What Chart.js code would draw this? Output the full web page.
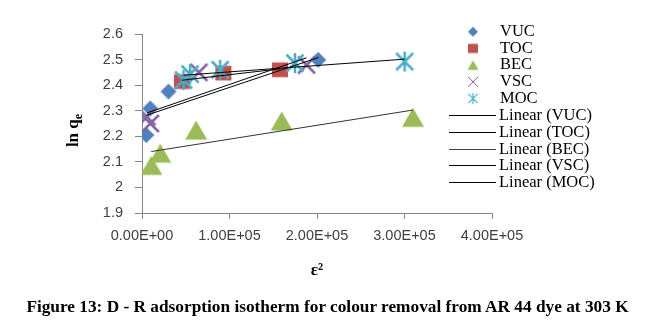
<!DOCTYPE html>
<html>
<head>
<meta charset="utf-8">
<script src="https://cdn.jsdelivr.net/npm/chart.js@4.4.1/dist/chart.umd.min.js"></script>
<style>
  html, body { margin: 0; padding: 0; background: #fff; }
  .wrap { position: relative; width: 655px; height: 333px; }
  #chart { display: block; }
  .caption {
    position: absolute; left: 0; top: 297px; width: 655px;
    text-align: center; font: bold 17.3px 'Liberation Serif', 'Times New Roman', serif;
    color: #000; white-space: nowrap;
  }
</style>
</head>
<body>
<div class="wrap">
  <canvas id="chart" width="655" height="333"></canvas>
  <div class="caption">Figure 13: D - R adsorption isotherm for colour removal from AR 44 dye at 303 K</div>
</div>
<script>
// epsilon^2 vs ln qe for each adsorbent
const vucX = [5000, 9500, 30300, 201400];
const vucY = [2.205, 2.309, 2.375, 2.499];
const tocX = [45600, 93000, 157700];
const tocY = [2.414, 2.447, 2.46];
const becX = [10600, 20900, 61900, 159600, 309700];
const becY = [2.086, 2.134, 2.224, 2.26, 2.274];
const vscX = [5700, 9500, 65000, 188100];
const vscY = [2.276, 2.25, 2.45, 2.479];
const mocX = [47500, 55000, 89300, 174800, 300200];
const mocY = [2.42, 2.443, 2.46, 2.486, 2.492];

const seriesNames = ['VUC', 'TOC', 'BEC', 'VSC', 'MOC'];
const seriesColors = ['#4F81BD', '#C0504D', '#9BBB59', '#8064A2', '#4BACC6'];
const xTicks = [0, 100000, 200000, 300000, 400000];
const yTicks = [1.9, 2.0, 2.1, 2.2, 2.3, 2.4, 2.5, 2.6];

const tickFont = { family: "'Liberation Sans', Arial, sans-serif", size: 14.5 };
const tickColor = '#404040';
const axisColor = '#868686';

function sci(v) {
  if (v === 0) return '0.00E+00';
  const e = Math.floor(Math.log10(Math.abs(v)));
  const m = v / Math.pow(10, e);
  return m.toFixed(2) + 'E' + (e < 0 ? '-' : '+') + String(Math.abs(e)).padStart(2, '0');
}

// least squares line, drawn over the x range of the series
function linearFit(xs, ys) {
  const n = xs.length;
  const mx = xs.reduce((a, b) => a + b, 0) / n;
  const my = ys.reduce((a, b) => a + b, 0) / n;
  let sxy = 0, sxx = 0;
  for (let i = 0; i < n; i++) {
    sxy += (xs[i] - mx) * (ys[i] - my);
    sxx += (xs[i] - mx) * (xs[i] - mx);
  }
  const b = sxy / sxx, a = my - b * mx;
  const lo = Math.min(...xs), hi = Math.max(...xs);
  return [{ x: lo, y: a + b * lo }, { x: hi, y: a + b * hi }];
}

function makeMarker(kind, size, color, lw) {
  const c = document.createElement('canvas');
  const w = Math.ceil(size) + 4;
  c.width = w; c.height = w;
  const g = c.getContext('2d');
  const m = w / 2, r = size / 2;
  g.fillStyle = color;
  g.strokeStyle = color;
  g.lineWidth = lw || 1;
  g.beginPath();
  if (kind === 'diamond') {
    g.moveTo(m, m - r); g.lineTo(m + r, m); g.lineTo(m, m + r); g.lineTo(m - r, m);
    g.closePath(); g.fill();
  } else if (kind === 'square') {
    g.fillRect(m - r, m - r * 0.92, 2 * r, 1.84 * r);
  } else if (kind === 'triangle') {
    const h = size * 0.87;
    g.moveTo(m, m - h / 2); g.lineTo(m + r, m + h / 2); g.lineTo(m - r, m + h / 2);
    g.closePath(); g.fill();
  } else if (kind === 'cross') {
    g.moveTo(m - r, m - r); g.lineTo(m + r, m + r);
    g.moveTo(m + r, m - r); g.lineTo(m - r, m + r);
    g.stroke();
  } else if (kind === 'asterisk') {
    const d = r * 0.85;
    g.moveTo(m - d, m - d); g.lineTo(m + d, m + d);
    g.moveTo(m + d, m - d); g.lineTo(m - d, m + d);
    g.moveTo(m, m - r); g.lineTo(m, m + r);
    g.stroke();
  }
  return c;
}

const plotMarkers = [
  makeMarker('diamond', 16, seriesColors[0]),
  makeMarker('square', 16, seriesColors[1]),
  makeMarker('triangle', 22, seriesColors[2]),
  makeMarker('cross', 17, seriesColors[3], 2.5),
  makeMarker('asterisk', 20, seriesColors[4], 2.5)
];
const legendMarkers = [
  makeMarker('diamond', 10, seriesColors[0]),
  makeMarker('square', 10, seriesColors[1]),
  makeMarker('triangle', 11, seriesColors[2]),
  makeMarker('cross', 10, seriesColors[3], 1),
  makeMarker('asterisk', 11, seriesColors[4], 1.2)
];

const xs = [vucX, tocX, becX, vscX, mocX];
const ys = [vucY, tocY, becY, vscY, mocY];

const datasets = [];
seriesNames.forEach((name, i) => {
  datasets.push({
    label: name,
    data: xs[i].map((x, j) => ({ x, y: ys[i][j] })),
    pointStyle: plotMarkers[i],
    pointRadius: 8,
    showLine: false,
    order: 5 - i
  });
});
seriesNames.forEach((name, i) => {
  datasets.push({
    label: 'Linear (' + name + ')',
    data: linearFit(xs[i], ys[i]),
    showLine: true,
    borderColor: i === 2 ? '#333' : '#000',
    borderWidth: 1,
    pointRadius: 0,
    order: 0
  });
});

// legend beside the plot (overlaps the right of the axis area) and y title with subscript
const sideLegend = {
  id: 'sideLegend',
  afterDraw(chart) {
    const { ctx, chartArea } = chart;
    const step = 16.7;
    const top = chartArea.top - 2.3;
    const right = chartArea.right;
    ctx.save();
    ctx.font = "16.5px 'Liberation Serif', 'Times New Roman', serif";
    ctx.fillStyle = '#000';
    ctx.textBaseline = 'middle';
    ctx.textAlign = 'left';
    seriesNames.forEach((name, i) => {
      const y = top + i * step;
      const img = legendMarkers[i];
      ctx.drawImage(img, right - 19 - img.width / 2, y - img.height / 2);
      ctx.fillText(name, right + 8, y);
    });
    seriesNames.forEach((name, i) => {
      const y = Math.round(top + (i + 5) * step) + 0.5;
      ctx.strokeStyle = i === 2 ? '#444' : '#000';
      ctx.lineWidth = 1;
      ctx.beginPath();
      ctx.moveTo(right - 43, y);
      ctx.lineTo(right + 4, y);
      ctx.stroke();
      ctx.fillText('Linear (' + name + ')', right + 7, y);
    });

    // y axis title: ln q_e
    const cy = (chartArea.top + chartArea.bottom) / 2 + 7;
    ctx.translate(73, cy);
    ctx.rotate(-Math.PI / 2);
    const big = "bold 17px 'Liberation Serif', 'Times New Roman', serif";
    const small = "bold 12px 'Liberation Serif', 'Times New Roman', serif";
    ctx.font = big;
    const w1 = ctx.measureText('ln q').width;
    ctx.font = small;
    const w2 = ctx.measureText('e').width;
    const x0 = -(w1 + w2) / 2;
    ctx.textBaseline = 'alphabetic';
    ctx.font = big;
    ctx.fillText('ln q', x0, 5);
    ctx.font = small;
    ctx.fillText('e', x0 + w1, 9);
    ctx.restore();
  }
};

new Chart(document.getElementById('chart'), {
  type: 'scatter',
  data: { datasets },
  plugins: [sideLegend],
  options: {
    responsive: false,
    animation: false,
    layout: { padding: { top: 34, right: 163, bottom: 42, left: 0 } },
    plugins: {
      legend: { display: false },
      tooltip: { enabled: false }
    },
    scales: {
      x: {
        type: 'linear',
        min: xTicks[0],
        max: xTicks[xTicks.length - 1],
        afterBuildTicks: s => { s.ticks = xTicks.map(v => ({ value: v })); },
        afterFit: s => { s.height = 78; },
        ticks: { callback: v => sci(v), font: tickFont, color: tickColor, padding: 8, maxRotation: 0 },
        grid: { drawOnChartArea: false, tickLength: 6, color: axisColor },
        border: { color: axisColor },
        title: {
          display: true,
          text: 'ε²',
          color: '#000',
          font: { family: "'Liberation Serif', 'Times New Roman', serif", size: 17, weight: 'bold' },
          padding: { top: 0, bottom: 10 }
        }
      },
      y: {
        min: yTicks[0],
        max: yTicks[yTicks.length - 1],
        afterBuildTicks: s => { s.ticks = yTicks.map(v => ({ value: v })); },
        afterFit: s => { s.width = 142; },
        ticks: { callback: v => String(Number(v.toFixed(1))), font: tickFont, color: tickColor, padding: 12 },
        grid: { drawOnChartArea: false, tickLength: 7, color: axisColor },
        border: { color: axisColor }
      }
    }
  }
});
</script>
</body>
</html>
